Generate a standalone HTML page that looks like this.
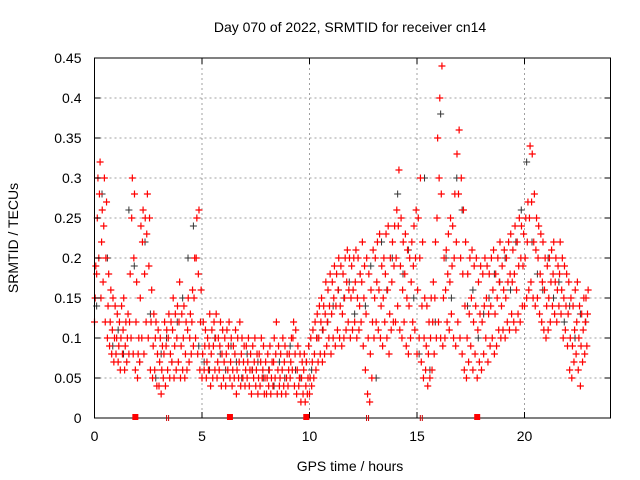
<!DOCTYPE html>
<html><head><meta charset="utf-8"><style>
body{margin:0;background:#fff;}
svg{display:block;font-family:"Liberation Sans",sans-serif;}
</style></head><body>
<svg id="chart" width="640" height="480" viewBox="0 0 640 480">
<rect width="640" height="480" fill="#fff"/>
<text x="350" y="32" font-size="14" text-anchor="middle">Day 070 of 2022, SRMTID for receiver cn14</text>
<text x="350" y="471" font-size="14" text-anchor="middle">GPS time / hours</text>
<text transform="translate(18,238) rotate(-90)" font-size="14" text-anchor="middle">SRMTID / TECUs</text>
<g id="grid"></g><g id="blk"></g><g id="red"></g><g id="axes"></g>
</svg>
<script>
const xTicks=[0,5,10,15,20];
const yTicks=[0,0.05,0.1,0.15,0.2,0.25,0.3,0.35,0.4,0.45];
const yTickLabels=["0","0.05","0.1","0.15","0.2","0.25","0.3","0.35","0.4","0.45"];
const slotHours=0.1;
const redValues=[
[.12,.15,.19],[.18,.25,.3],[.2,.28,.32],[.15,.22,.26],[.17,.24,.3],[.12,.2,.27],[.1,.14,.18],[.09,.12,.16],[.08,.11,.15],[.07,.1,.14],
[.08,.1,.13],[.07,.09,.12],[.06,.1,.14],[.08,.11,.15],[.06,.09,.12],[.07,.1,.13],[.08,.12,.18],[.1,.25,.3],[.08,.2,.28],[.06,.12,.17],
[.05,.08,.1],[.07,.15,.24],[.1,.22,.26],[.08,.18,.25],[.12,.23,.28],[.1,.19,.25],[.06,.12,.16],[.05,.09,.13],[.06,.1,.12],[.04,.08,.11],
[.04,.07,.1],[.03,.06,.09],[.05,.08,.12],[.04,.09,.11],[.06,.1,.13],[.05,.08,.12],[.07,.11,.15],[.05,.09,.13],[.06,.1,.14],[.07,.12,.17],
[.05,.09,.13],[.06,.1,.14],[.05,.08,.12],[.06,.11,.15],[.07,.1,.13],[.08,.12,.16],[.09,.15,.2],[.1,.2,.25],[.08,.18,.26],[.06,.12,.16],
[.05,.08,.12],[.06,.09,.11],[.05,.07,.1],[.06,.09,.13],[.04,.08,.11],[.05,.09,.12],[.06,.1,.13],[.05,.07,.1],[.06,.09,.12],[.04,.08,.11],
[.05,.07,.1],[.04,.08,.11],[.06,.09,.12],[.05,.07,.1],[.04,.06,.09],[.05,.08,.11],[.03,.06,.1],[.05,.07,.12],[.04,.08,.1],[.05,.07,.09],
[.04,.06,.09],[.05,.07,.1],[.04,.06,.08],[.03,.06,.09],[.05,.07,.1],[.04,.06,.08],[.03,.05,.08],[.04,.07,.1],[.05,.06,.09],[.03,.05,.07],
[.03,.05,.08],[.04,.06,.09],[.03,.05,.07],[.04,.07,.1],[.05,.08,.12],[.03,.06,.09],[.04,.05,.08],[.03,.06,.1],[.04,.07,.09],[.03,.05,.08],
[.04,.06,.08],[.05,.07,.1],[.06,.1,.12],[.04,.08,.11],[.03,.06,.09],[.04,.05,.08],[.02,.05,.07],[.03,.06,.08],[.02,.04,.07],[.03,.05,.09],
[.03,.05,.1],[.04,.07,.11],[.05,.08,.12],[.06,.1,.13],[.07,.1,.14],[.08,.12,.15],[.07,.11,.14],[.08,.13,.17],[.09,.12,.16],[.1,.14,.18],
[.08,.13,.17],[.1,.15,.19],[.09,.14,.18],[.11,.16,.2],[.1,.14,.19],[.09,.13,.18],[.1,.15,.2],[.11,.17,.21],[.12,.16,.2],[.1,.15,.19],
[.11,.16,.2],[.12,.17,.21],[.1,.15,.2],[.11,.14,.18],[.12,.17,.22],[.09,.15,.19],[.06,.13,.2],[.03,.1,.18],[.02,.08,.16],[.05,.12,.21],
[.1,.15,.2],[.12,.17,.22],[.11,.16,.23],[.1,.14,.19],[.09,.15,.2],[.12,.18,.23],[.1,.16,.24],[.08,.13,.2],[.11,.17,.22],[.12,.19,.24],
[.12,.2,.26],[.14,.24,.31],[.11,.19,.25],[.1,.16,.22],[.12,.18,.23],[.09,.15,.21],[.08,.14,.2],[.1,.17,.22],[.12,.19,.24],[.11,.2,.26],
[.08,.16,.25],[.1,.2,.3],[.07,.14,.22],[.05,.1,.15],[.06,.09,.14],[.04,.08,.12],[.05,.1,.15],[.06,.12,.17],[.08,.15,.22],[.1,.25,.35],
[.12,.3,.4],[.1,.28,.44],[.09,.15,.2],[.1,.16,.21],[.12,.18,.23],[.11,.17,.25],[.13,.19,.24],[.1,.2,.28],[.09,.22,.33],[.12,.28,.36],
[.1,.2,.3],[.08,.18,.26],[.06,.14,.22],[.05,.1,.18],[.07,.13,.2],[.09,.15,.21],[.06,.12,.19],[.08,.14,.2],[.05,.11,.17],[.07,.13,.19],
[.06,.12,.18],[.08,.14,.2],[.1,.15,.19],[.07,.13,.18],[.09,.14,.2],[.1,.16,.21],[.08,.13,.18],[.09,.15,.2],[.11,.17,.22],[.1,.14,.19],
[.11,.16,.21],[.1,.15,.2],[.12,.17,.22],[.11,.18,.23],[.13,.17,.21],[.12,.18,.24],[.11,.16,.22],[.13,.19,.25],[.12,.2,.24],[.14,.19,.23],
[.14,.2,.25],[.15,.22,.27],[.16,.25,.34],[.17,.27,.33],[.15,.22,.28],[.14,.21,.25],[.15,.2,.24],[.13,.18,.23],[.12,.17,.22],[.11,.16,.2],
[.1,.14,.19],[.11,.15,.2],[.12,.17,.21],[.14,.18,.22],[.13,.17,.2],[.12,.16,.19],[.14,.18,.22],[.13,.16,.2],[.1,.15,.19],[.11,.14,.18],
[.09,.13,.17],[.06,.1,.15],[.05,.09,.14],[.07,.11,.16],[.08,.12,.17],[.06,.1,.14],[.04,.09,.13],[.07,.11,.15],[.08,.12,.15],[.09,.13,.16]
];
const blackSlotHours=0.25;
const blackValues=[.14,.28,.2,.09,.11,.08,.26,.19,.07,.22,.13,.05,.08,.1,.07,.12,.15,.2,.24,.09,.07,.06,.1,.08,.06,.09,.07,.05,.08,.06,.07,.05,.06,.04,.07,.05,.09,.06,.05,.07,
.06,.1,.11,.12,.14,.16,.15,.17,.13,.18,.14,.19,.05,.22,.16,.2,.28,.18,.21,.15,.08,.3,.06,.12,.38,.2,.15,.3,.26,.14,.16,.1,.13,.15,.18,.17,.2,.16,.22,.26,
.32,.22,.18,.16,.2,.15,.17,.12,.14,.1,.13,.12];
const markerRed=[1.9,6.3,9.85,17.8];
const markerBlack=[3.4,12.7,15.2];
const L=94.5,R=610.5,T=58,B=418,XMAX=24,YMAX=0.45;
const sx=h=>L+h/XMAX*(R-L), sy=v=>B-v/YMAX*(B-T);
const NS="http://www.w3.org/2000/svg";
function mk(tag,attrs,parent){const e=document.createElementNS(NS,tag);for(const k in attrs)e.setAttribute(k,attrs[k]);parent.appendChild(e);return e;}
const grid=document.getElementById('grid'),axes=document.getElementById('axes');
xTicks.forEach(t=>{const x=sx(t);
 if(t>0){const g=mk('line',{x1:x,x2:x,y1:T,y2:B,stroke:'#a0a0a0','stroke-dasharray':'2,3'},grid);
 
 }
 const tl=mk('text',{x:x,y:B+23,'font-size':14,'text-anchor':'middle'},axes);tl.textContent=t;
 
 
 mk('line',{x1:x,x2:x,y1:B,y2:B-6,stroke:'#000'},axes);mk('line',{x1:x,x2:x,y1:T,y2:T+6,stroke:'#000'},axes);});
yTicks.forEach((v,i)=>{const y=sy(v);
 if(i>0&&i<yTicks.length-1){const g=mk('line',{x1:L,x2:R,y1:y,y2:y,stroke:'#a0a0a0','stroke-dasharray':'2,3'},grid);
 
 }
 const tl=mk('text',{x:L-13,y:y+5,'font-size':14,'text-anchor':'end'},axes);tl.textContent=yTickLabels[i];
 
 
 mk('line',{x1:L,x2:L+6,y1:y,y2:y,stroke:'#000'},axes);mk('line',{x1:R,x2:R-6,y1:y,y2:y,stroke:'#000'},axes);});
const fr=mk('rect',{x:L,y:T,width:R-L,height:B-T,fill:'none',stroke:'#000'},axes);


function plus(x,y){return `M${x-3.5},${y}h7M${x},${y-3.5}v7`;}
let d='';
redValues.forEach((vals,i)=>vals.forEach((v,j)=>{d+=plus(sx(i*slotHours+j*0.03),sy(v));}));
const rp=mk('path',{d:d,stroke:'#ff0000','stroke-width':1.2,fill:'none'},document.getElementById('red'));


let db='';
blackValues.forEach((v,i)=>{db+=plus(sx(i*blackSlotHours+0.1),sy(v));});
const bp=mk('path',{d:db,stroke:'#333','stroke-width':1,fill:'none'},document.getElementById('blk'));


markerRed.forEach(h=>{const m=mk('rect',{x:sx(h)-3,y:B-4,width:6,height:6,fill:'#ff0000'},axes);
 
 });
markerBlack.forEach(h=>{const m=mk('path',{d:`M${sx(h)-1},${B-3}v6M${sx(h)+1},${B-3}v6`,stroke:'#c00','stroke-width':1},axes);
 
 });
</script>
</body></html>
